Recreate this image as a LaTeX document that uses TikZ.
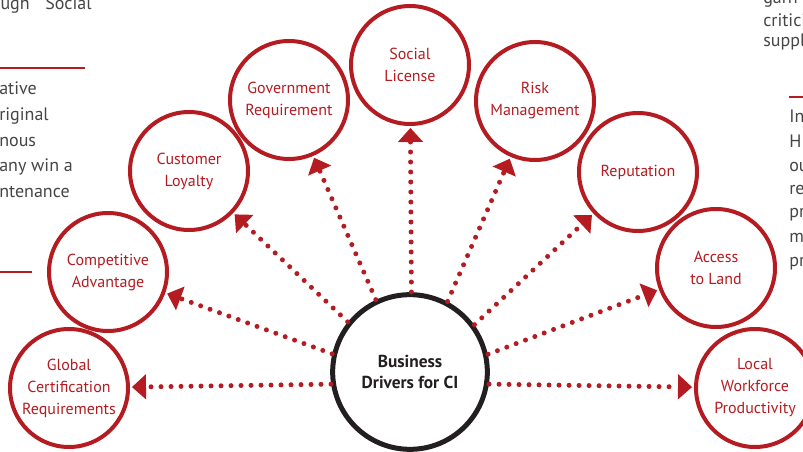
\documentclass[tikz,border=0pt]{standalone}
\usepackage{fontspec}
\setmainfont{PT Sans}
\usetikzlibrary{arrows.meta,calc}
\definecolor{cired}{RGB}{181,28,33}
\definecolor{ciblack}{RGB}{35,31,32}
\definecolor{cigray}{RGB}{70,70,70}
\begin{document}
\begin{tikzpicture}[x=0.75pt,y=-0.75pt,
  driver/.style={circle, draw=cired, line width=3pt, minimum size=88.5pt, inner sep=0pt,
    align=center, text=cired, font=\fontsize{12}{16.5}\selectfont},
  hubnode/.style={circle, draw=ciblack, line width=3.75pt, minimum size=116pt, inner sep=0pt,
    align=center, text=ciblack, font=\bfseries\fontsize{13}{15.75}\selectfont},
  arr/.style={cired, line width=3.75pt, line cap=round, dash pattern=on 0pt off 7.5pt,
    -{Triangle[length=10.5pt,width=19pt,line width=0pt]}},
  frag/.style={text=cigray, font=\fontsize{13.5}{16}\selectfont, inner sep=0pt, anchor=base west},
  rulestyle/.style={cired, line width=0.9pt}]
\useasboundingbox (0,0) rectangle (803,452);
\fill[white] (0,0) rectangle (803,452);

% background text fragments
\node[frag, anchor=base east] (fa) at (30,10) {ough};
\node[frag] (fb) at (45,10) {Social};
\draw[rulestyle] (0,68) -- (85,68);
\node[frag] (fc) at (-1,95) {ative};
\node[frag] (fd) at (-1,121) {riginal};
\node[frag] (fe) at (-1,147) {nous};
\node[frag] (ff) at (-1,172) {any win a};
\node[frag] (fg) at (-1,198) {ntenance};
\draw[rulestyle] (0,272) -- (32,272);

\node[frag] (ga) at (763,4) {garn};
\node[frag] (gb) at (763,27) {critici};
\node[frag] (gc) at (763,47) {suppl};
\draw[rulestyle] (789,97) -- (803,97);
\node[frag] (gd) at (789,123) {In};
\node[frag] (ge) at (789,148) {H};
\node[frag] (gf) at (789,172) {ou};
\node[frag] (gg) at (789,195) {re};
\node[frag] (gh) at (789,218) {pr};
\node[frag] (gi) at (789,243) {m};
\node[frag] (gj) at (789,267) {pr};

% nodes
\node[hubnode] (biz) at (410,372) {Business\\Drivers for CI};
\coordinate (hub) at (412,383);
\node[driver] (glob) at (69,388) {Global\\Certification\\Requirements};
\node[driver] (comp) at (108,272) {Competitive\\Advantage};
\node[driver] (cust) at (189,171) {Customer\\Loyalty};
\node[driver] (gov) at (289,100) {Government\\Requirement};
\node[driver] (soc) at (410,65) {Social\\License};
\node[driver] (risk) at (535,101) {Risk\\Management};
\node[driver] (rep) at (638,172) {Reputation};
\node[driver] (acc) at (716,268) {Access\\to Land};
\node[driver] (loc) at (755,388) {Local\\Workforce\\Productivity};

% connectors
\draw[arr] ($(hub)!60.75pt!(glob)$) -- ($(glob)!47.25pt!(hub)$);
\draw[arr] ($(hub)!63.75pt!(comp)$) -- ($(comp)!47.25pt!(hub)$);
\draw[arr] ($(hub)!66.6pt!(cust)$) -- ($(cust)!47.25pt!(hub)$);
\draw[arr] ($(hub)!68.2pt!(gov)$) -- ($(gov)!47.25pt!(hub)$);
\draw[arr] ($(hub)!68.25pt!(soc)$) -- ($(soc)!47.25pt!(hub)$);
\draw[arr] ($(hub)!66.75pt!(risk)$) -- ($(risk)!47.25pt!(hub)$);
\draw[arr] ($(hub)!64.1pt!(rep)$) -- ($(rep)!47.25pt!(hub)$);
\draw[arr] ($(hub)!61pt!(acc)$) -- ($(acc)!47.25pt!(hub)$);
\draw[arr] ($(hub)!57.8pt!(loc)$) -- ($(loc)!47.25pt!(hub)$);
\end{tikzpicture}
\end{document}
